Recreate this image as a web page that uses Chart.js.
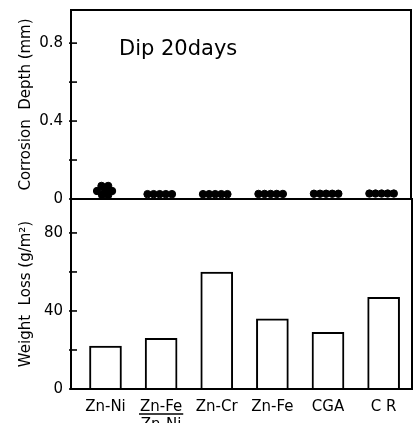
<!DOCTYPE html>
<html>
<head>
<meta charset="utf-8">
<script src="https://cdn.jsdelivr.net/npm/chart.js@4"></script>
<style>
    body { margin: 0; background: #fff; }
    #wrap { position: relative; width: 416px; height: 423px; overflow: hidden; background: #fff; }
    canvas { position: absolute; left: 0; }
    #depthChart { top: -10px; }
    #lossChart { top: 179px; }
</style>
</head>
<body>
<div id="wrap">
    <canvas id="depthChart" width="416" height="229" style="width:416px;height:229px"></canvas>
    <canvas id="lossChart" width="416" height="244" style="width:416px;height:244px"></canvas>
</div>
<script>
// data
const categories = ['Zn-Ni', ['Zn-Fe', 'Zn-Ni'], 'Zn-Cr', 'Zn-Fe', 'CGA', 'C R'];
const weightLoss = [22, 26, 60, 36, 29, 47];
const depthReadings = [
    [0.067, 0.067, 0.045, 0.041, 0.041, 0.02, 0.02],
    [0.025, 0.025, 0.025, 0.025, 0.025],
    [0.025, 0.025, 0.025, 0.025, 0.025],
    [0.026, 0.026, 0.026, 0.026, 0.026],
    [0.027, 0.027, 0.027, 0.027, 0.027],
    [0.028, 0.028, 0.028, 0.028, 0.028]
];
const depthTicks = [0, 0.4, 0.8];
const depthMinor = [0.2, 0.6];
const lossTicks = [0, 40, 80];
const lossMinor = [20, 60];

// how the specimen dots sit side by side around each category
const clusterSpread = [-0.07, 0.05, -0.01, -0.15, 0.12, -0.06, 0.05];
const rowSpread = [-0.24, -0.13, -0.02, 0.09, 0.2];

const FONT = 'DejaVu Sans';
const X_MIN = 0.38, X_MAX = 6.51;

const depthPoints = [];
depthReadings.forEach(function (vals, i) {
    const spread = i === 0 ? clusterSpread : rowSpread;
    vals.forEach(function (v, j) {
        depthPoints.push({ x: i + 1 + spread[j], y: v });
    });
});
const lossPoints = weightLoss.map((v, i) => ({ x: i + 1, y: v }));

const framePlugin = {
    id: 'frame',
    afterDraw(chart) {
        const a = chart.chartArea;
        const ctx = chart.ctx;
        const ys = chart.scales.y;
        ctx.save();
        ctx.strokeStyle = '#000';
        ctx.lineWidth = 2;
        ctx.strokeRect(a.left, a.top, a.right - a.left, a.bottom - a.top);
        ctx.lineWidth = 1.6;
        ys.ticks.forEach(function (t) {
            const y = ys.getPixelForValue(t.value);
            ctx.beginPath();
            ctx.moveTo(a.left - 2, y);
            ctx.lineTo(a.left + 6, y);
            ctx.stroke();
        });
        ctx.restore();
    }
};

function yAxis(max, major, minor, title, fmt) {
    return {
        min: 0,
        max: max,
        afterBuildTicks: function (s) {
            s.ticks = major.concat(minor).sort((a, b) => a - b).map(v => ({ value: v }));
        },
        afterFit: function (s) { s.width = 71; },
        grid: { display: false, drawTicks: false },
        border: { display: false },
        ticks: {
            padding: 8,
            color: '#000',
            font: { family: FONT, size: 15 },
            callback: v => major.includes(v) ? fmt(v) : ''
        },
        title: {
            display: true,
            text: title,
            color: '#000',
            font: { family: FONT, size: 15 },
            padding: { top: 17, bottom: 0 }
        }
    };
}

new Chart(document.getElementById('depthChart'), {
    type: 'scatter',
    data: {
        datasets: [{
            data: depthPoints,
            backgroundColor: '#000',
            borderColor: '#000',
            pointRadius: 3.7,
            clip: false
        }]
    },
    options: {
        responsive: false,
        animation: false,
        layout: { padding: { left: 0, right: 4, top: 20, bottom: 20 } },
        plugins: { legend: { display: false }, tooltip: { enabled: false } },
        scales: {
            x: { type: 'linear', min: X_MIN, max: X_MAX, display: false },
            y: yAxis(0.97, depthTicks, depthMinor, 'Corrosion  Depth (mm)', v => v === 0 ? '0' : v.toFixed(1))
        }
    },
    plugins: [framePlugin, {
        id: 'dipLabel',
        afterDraw(chart) {
            const ctx = chart.ctx;
            ctx.save();
            ctx.fillStyle = '#000';
            ctx.font = '21px "' + FONT + '"';
            ctx.textBaseline = 'middle';
            ctx.fillText('Dip 20days', chart.chartArea.left + 48, chart.chartArea.top + 40);
            ctx.restore();
        }
    }]
});

new Chart(document.getElementById('lossChart'), {
    type: 'bar',
    data: {
        datasets: [{
            data: lossPoints,
            backgroundColor: '#fff',
            borderColor: '#000',
            borderWidth: 2,
            barThickness: 32
        }]
    },
    options: {
        responsive: false,
        animation: false,
        layout: { padding: { left: 0, right: 4, top: 20, bottom: 0 } },
        plugins: { legend: { display: false }, tooltip: { enabled: false } },
        scales: {
            x: {
                type: 'linear',
                min: X_MIN,
                max: X_MAX,
                offset: false,
                afterBuildTicks: function (s) {
                    s.ticks = categories.map((c, i) => ({ value: i + 1 }));
                },
                afterFit: function (s) { s.height = 34; },
                grid: { display: false, drawTicks: false, offset: false },
                border: { display: false },
                ticks: {
                    padding: 9,
                    color: '#000',
                    maxRotation: 0,
                    autoSkip: false,
                    font: { family: FONT, size: 15 },
                    callback: v => categories[v - 1]
                }
            },
            y: yAxis(97.4, lossTicks, lossMinor, 'Weight  Loss (g/m²)', v => String(v))
        }
    },
    plugins: [framePlugin, {
        id: 'fractionBar',
        afterDraw(chart) {
            const ctx = chart.ctx;
            const xs = chart.scales.x;
            ctx.save();
            ctx.font = '15px "' + FONT + '"';
            const w = ctx.measureText('Zn-Fe').width + 2;
            const cx = xs.getPixelForValue(2);
            const y = chart.chartArea.bottom + 25;
            ctx.strokeStyle = '#000';
            ctx.lineWidth = 1.5;
            ctx.beginPath();
            ctx.moveTo(cx - w / 2, y);
            ctx.lineTo(cx + w / 2, y);
            ctx.stroke();
            ctx.restore();
        }
    }]
});
</script>
</body>
</html>
